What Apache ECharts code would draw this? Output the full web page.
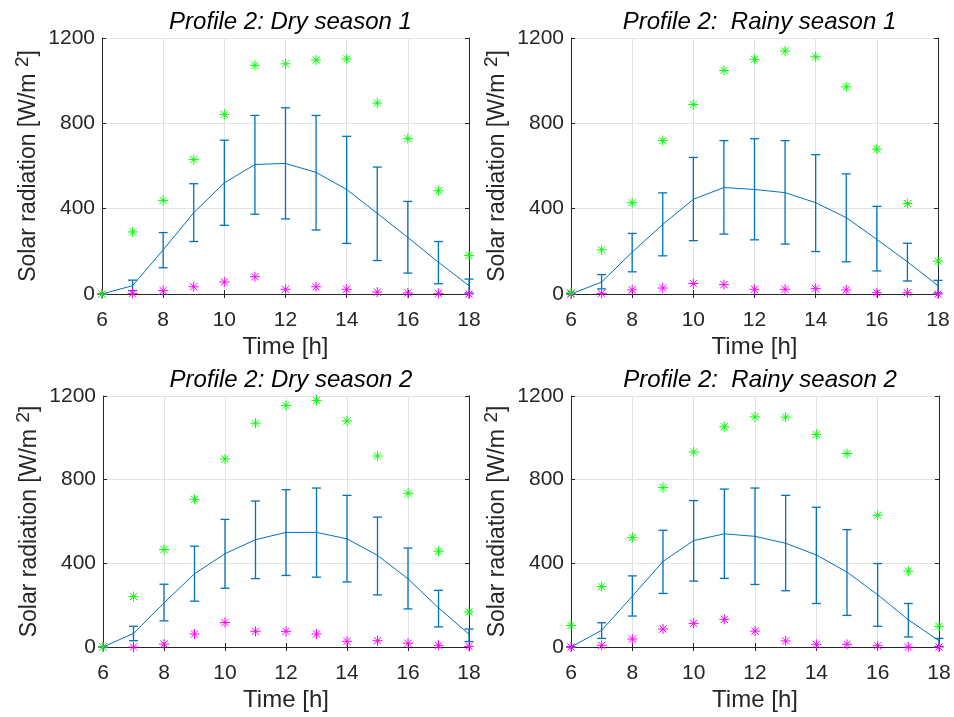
<!DOCTYPE html>
<html>
<head>
<meta charset="utf-8">
<script src="https://cdn.jsdelivr.net/npm/echarts@6/dist/echarts.min.js"></script>
<style>html,body{margin:0;padding:0;background:#fff}#c{width:954px;height:717px}</style>
</head>
<body>
<div id="c"></div>
<script>
const hours = [6, 7, 8, 9, 10, 11, 12, 13, 14, 15, 16, 17, 18];
const xTicks = [6, 8, 10, 12, 14, 16, 18];
const yTicks = [0, 400, 800, 1200];

const titles = ['Profile 2: Dry season 1', 'Profile 2:  Rainy season 1', 'Profile 2: Dry season 2', 'Profile 2:  Rainy season 2'];

// Dry season 1
const dry1Mean = [0, 39, 207, 381, 521, 607, 612, 570, 490, 378, 265, 149, 39];
const dry1Low  = [0, 16, 123, 246, 322, 374, 352, 300, 237, 157, 98, 48, 5];
const dry1High = [0, 65, 288, 517, 721, 837, 873, 837, 739, 595, 434, 246, 70];
const dry1Max  = [0, 291, 439, 630, 842, 1072, 1079, 1097, 1102, 895, 728, 484, 181];
const dry1Min  = [0, 3, 16, 34, 56, 81, 22, 34, 22, 9, 5, 3, 0];

// Rainy season 1
const rainy1Mean = [0, 56, 196, 326, 444, 499, 490, 475, 428, 358, 256, 151, 39];
const rainy1Low  = [0, 24, 104, 179, 250, 281, 254, 234, 199, 151, 108, 61, 5];
const rainy1High = [0, 91, 284, 474, 640, 719, 728, 719, 653, 563, 411, 238, 64];
const rainy1Max  = [5, 207, 428, 719, 888, 1048, 1100, 1139, 1112, 971, 679, 424, 154];
const rainy1Min  = [0, 3, 19, 28, 49, 44, 22, 22, 25, 19, 6, 6, 0];

// Dry season 2
const dry2Mean = [0, 65, 211, 350, 446, 513, 548, 548, 517, 438, 326, 187, 61];
const dry2Low  = [0, 30, 125, 219, 281, 327, 342, 334, 311, 249, 182, 96, 26];
const dry2High = [0, 99, 300, 482, 610, 698, 752, 760, 725, 621, 473, 271, 86];
const dry2Max  = [0, 241, 466, 706, 899, 1070, 1155, 1179, 1081, 913, 735, 458, 168];
const dry2Min  = [0, 0, 14, 62, 117, 75, 75, 62, 27, 30, 18, 8, 3];

// Rainy season 2
const rainy2Mean = [0, 80, 243, 409, 509, 541, 529, 496, 440, 358, 250, 130, 30];
const rainy2Low  = [0, 41, 148, 256, 315, 328, 299, 269, 208, 151, 99, 48, 3];
const rainy2High = [0, 116, 340, 558, 700, 755, 760, 725, 668, 561, 399, 208, 41];
const rainy2Max  = [103, 289, 523, 762, 932, 1053, 1100, 1099, 1016, 925, 630, 363, 99];
const rainy2Min  = [0, 8, 38, 86, 113, 132, 76, 29, 13, 13, 6, 0, 0];

const panels = [
  {mean: dry1Mean, low: dry1Low, high: dry1High, max: dry1Max, min: dry1Min},
  {mean: rainy1Mean, low: rainy1Low, high: rainy1High, max: rainy1Max, min: rainy1Min},
  {mean: dry2Mean, low: dry2Low, high: dry2High, max: dry2Max, min: dry2Min},
  {mean: rainy2Mean, low: rainy2Low, high: rainy2High, max: rainy2Max, min: rainy2Min}
];

const FONT = "'Liberation Sans', Arial, sans-serif";
const AXC = '#262626';
const BLUE = '#0072BD';

const grids = [
  {left: 102, top: 38, width: 367, height: 256},
  {left: 571, top: 38, width: 367, height: 256},
  {left: 103, top: 396, width: 366, height: 251},
  {left: 571, top: 396, width: 368, height: 251}
];
const titleTops = [5, 5, 363, 363];

function errRender(params, api) {
  const x = api.value(0), lo = api.value(1), hi = api.value(2);
  const a = api.coord([x, lo]), b = api.coord([x, hi]);
  const w = 4.5;
  const style = {stroke: BLUE, lineWidth: 1.3};
  return {type: 'group', children: [
    {type: 'line', shape: {x1: a[0], y1: a[1], x2: b[0], y2: b[1]}, style: style},
    {type: 'line', shape: {x1: a[0] - w, y1: a[1], x2: a[0] + w, y2: a[1]}, style: style},
    {type: 'line', shape: {x1: b[0] - w, y1: b[1], x2: b[0] + w, y2: b[1]}, style: style}
  ]};
}
function starRender(color) {
  return function (params, api) {
    const p = api.coord([api.value(0), api.value(1)]);
    const s = 5, d = 3.6;
    const style = {stroke: color, lineWidth: 1};
    return {type: 'group', children: [
      {type: 'line', shape: {x1: p[0] - s, y1: p[1], x2: p[0] + s, y2: p[1]}, style: style},
      {type: 'line', shape: {x1: p[0], y1: p[1] - s, x2: p[0], y2: p[1] + s}, style: style},
      {type: 'line', shape: {x1: p[0] - d, y1: p[1] - d, x2: p[0] + d, y2: p[1] + d}, style: style},
      {type: 'line', shape: {x1: p[0] - d, y1: p[1] + d, x2: p[0] + d, y2: p[1] - d}, style: style}
    ]};
  };
}

const option = {
  animation: false,
  backgroundColor: '#ffffff',
  textStyle: {fontFamily: FONT},
  title: [], grid: [], xAxis: [], yAxis: [], series: []
};

panels.forEach(function (pn, i) {
  const g = grids[i];
  option.grid.push({left: g.left, top: g.top, width: g.width, height: g.height, containLabel: false});
  option.title.push({
    text: titles[i], left: g.left + g.width / 2, top: titleTops[i], textAlign: 'center',
    textStyle: {fontFamily: FONT, fontSize: 24, fontStyle: 'italic', fontWeight: 'normal', color: '#000'}
  });
  const axLine = {show: true, lineStyle: {color: AXC, width: 1}};
  const tick = {show: true, inside: true, length: 4, lineStyle: {color: AXC}};
  option.xAxis.push({
    gridIndex: i, type: 'value', min: 6, max: 18, interval: 2, position: 'bottom',
    axisLine: axLine, axisTick: tick,
    axisLabel: {color: AXC, fontSize: 21, margin: 16, fontFamily: FONT,
      formatter: function (v) { return xTicks.indexOf(v) >= 0 ? String(v) : ''; }},
    splitLine: {show: true, lineStyle: {color: '#e3e3e3', width: 1}},
    name: 'Time [h]', nameLocation: 'middle', nameGap: 41,
    nameTextStyle: {color: AXC, fontSize: 24, fontFamily: FONT}
  });
  option.xAxis.push({
    gridIndex: i, type: 'value', min: 6, max: 18, interval: 2, position: 'top',
    axisLine: axLine, axisTick: tick, axisLabel: {show: false}, splitLine: {show: false}
  });
  option.yAxis.push({
    gridIndex: i, type: 'value', min: 0, max: 1200, interval: 400, position: 'left',
    axisLine: axLine, axisTick: tick,
    axisLabel: {color: AXC, fontSize: 21, margin: 7, fontFamily: FONT,
      formatter: function (v) { return yTicks.indexOf(v) >= 0 ? String(v) : ''; }},
    splitLine: {show: true, lineStyle: {color: '#e3e3e3', width: 1}},
    name: 'Solar radiation [W/m {sup|2}]', nameLocation: 'middle', nameGap: 58, nameRotate: 90,
    nameTextStyle: {color: AXC, fontSize: 23, fontFamily: FONT,
      rich: {sup: {fontSize: 19, color: AXC, fontFamily: FONT, padding: [0, 0, 12, 0]}}}
  });
  option.yAxis.push({
    gridIndex: i, type: 'value', min: 0, max: 1200, interval: 400, position: 'right',
    axisLine: axLine, axisTick: tick, axisLabel: {show: false}, splitLine: {show: false}
  });
  const xi = 2 * i, yi = 2 * i;
  option.series.push({
    type: 'line', xAxisIndex: xi, yAxisIndex: yi, symbol: 'none',
    lineStyle: {color: BLUE, width: 1}, data: hours.map(function (h, k) { return [h, pn.mean[k]]; }), z: 3
  });
  option.series.push({
    type: 'custom', xAxisIndex: xi, yAxisIndex: yi, renderItem: errRender, clip: false,
    data: hours.map(function (h, k) { return [h, pn.low[k], pn.high[k]]; }), z: 3
  });
  option.series.push({
    type: 'custom', xAxisIndex: xi, yAxisIndex: yi, renderItem: starRender('#FF00FF'), clip: false,
    data: hours.map(function (h, k) { return [h, pn.min[k]]; }), z: 4
  });
  option.series.push({
    type: 'custom', xAxisIndex: xi, yAxisIndex: yi, renderItem: starRender('#00FF00'), clip: false,
    data: hours.map(function (h, k) { return [h, pn.max[k]]; }), z: 5
  });
});

const chart = echarts.init(document.getElementById('c'), null, {renderer: 'canvas'});
chart.setOption(option);
</script>
</body>
</html>
